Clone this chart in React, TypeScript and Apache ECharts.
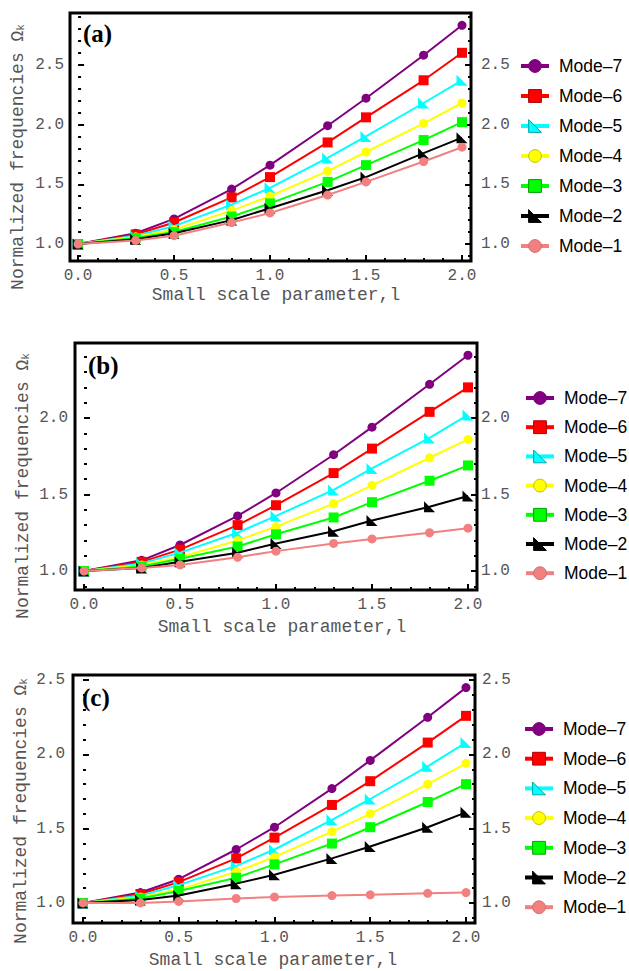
import React, { useEffect, useRef } from "react";
import * as echarts from "echarts";

const X_VALUES = [0, 0.3, 0.5, 0.8, 1.0, 1.3, 1.5, 1.8, 2.0];
const MODE_NAMES = ["Mode–7", "Mode–6", "Mode–5", "Mode–4", "Mode–3", "Mode–2", "Mode–1"];
const MODE_COLORS = ["#800080", "#ff0000", "#00ffff", "#ffff00", "#00ff00", "#000000", "#f28080"];
const MODE_BORDERS = ["#800080", "#b00000", "#00a8a8", "#c8c000", "#00a000", "#000000", "#d07070"];

// Panel (a)
const A_MODE7 = [1.0, 1.09, 1.21, 1.46, 1.66, 1.99, 2.22, 2.58, 2.83];
const A_MODE6 = [1.0, 1.08, 1.18, 1.39, 1.56, 1.85, 2.06, 2.37, 2.60];
const A_MODE5 = [1.0, 1.07, 1.15, 1.33, 1.47, 1.72, 1.90, 2.18, 2.37];
const A_MODE4 = [1.0, 1.06, 1.12, 1.28, 1.40, 1.61, 1.77, 2.01, 2.18];
const A_MODE3 = [1.0, 1.05, 1.10, 1.23, 1.34, 1.52, 1.66, 1.87, 2.02];
const A_MODE2 = [1.0, 1.04, 1.09, 1.20, 1.30, 1.45, 1.56, 1.76, 1.89];
const A_MODE1 = [1.0, 1.03, 1.07, 1.18, 1.26, 1.41, 1.52, 1.69, 1.81];

// Panel (b)
const B_MODE7 = [1.0, 1.07, 1.17, 1.36, 1.51, 1.76, 1.94, 2.22, 2.41];
const B_MODE6 = [1.0, 1.06, 1.14, 1.30, 1.43, 1.64, 1.80, 2.04, 2.20];
const B_MODE5 = [1.0, 1.05, 1.12, 1.25, 1.36, 1.53, 1.67, 1.87, 2.02];
const B_MODE4 = [1.0, 1.04, 1.09, 1.20, 1.29, 1.44, 1.56, 1.74, 1.86];
const B_MODE3 = [1.0, 1.03, 1.08, 1.16, 1.24, 1.35, 1.45, 1.59, 1.69];
const B_MODE2 = [1.0, 1.02, 1.06, 1.12, 1.18, 1.26, 1.33, 1.42, 1.49];
const B_MODE1 = [1.0, 1.02, 1.04, 1.09, 1.13, 1.18, 1.21, 1.25, 1.28];

// Panel (c)
const C_MODE7 = [1.0, 1.07, 1.16, 1.36, 1.51, 1.77, 1.96, 2.25, 2.45];
const C_MODE6 = [1.0, 1.06, 1.14, 1.30, 1.44, 1.66, 1.82, 2.08, 2.26];
const C_MODE5 = [1.0, 1.05, 1.12, 1.25, 1.36, 1.56, 1.70, 1.92, 2.08];
const C_MODE4 = [1.0, 1.04, 1.09, 1.21, 1.31, 1.48, 1.60, 1.80, 1.94];
const C_MODE3 = [1.0, 1.03, 1.08, 1.17, 1.26, 1.40, 1.51, 1.68, 1.80];
const C_MODE2 = [1.0, 1.02, 1.05, 1.13, 1.19, 1.30, 1.38, 1.51, 1.61];
const C_MODE1 = [1.0, 1.0, 1.01, 1.03, 1.04, 1.05, 1.055, 1.065, 1.07];

// Tick values
const X_MAJOR = [0, 0.5, 1.0, 1.5, 2.0];
const X_MINOR = [0.1, 0.2, 0.3, 0.4, 0.6, 0.7, 0.8, 0.9, 1.1, 1.2, 1.3, 1.4, 1.6, 1.7, 1.8, 1.9];
const Y_MAJOR_A = [1.0, 1.5, 2.0, 2.5];
const Y_MINOR_A = [0.9, 1.1, 1.2, 1.3, 1.4, 1.6, 1.7, 1.8, 1.9, 2.1, 2.2, 2.3, 2.4, 2.6, 2.7, 2.8, 2.9];
const Y_MAJOR_B = [1.0, 1.5, 2.0];
const Y_MINOR_B = [0.9, 1.1, 1.2, 1.3, 1.4, 1.6, 1.7, 1.8, 1.9, 2.1, 2.2, 2.3, 2.4];
const Y_MAJOR_C = [1.0, 1.5, 2.0, 2.5];
const Y_MINOR_C = [0.9, 1.1, 1.2, 1.3, 1.4, 1.6, 1.7, 1.8, 1.9, 2.1, 2.2, 2.3, 2.4];

const PANEL_LABELS = ["(a)", "(b)", "(c)"];
const X_TITLE = "Small scale parameter,l";
const Y_TITLE = "Normalized frequencies Ω{k|k}";

const SYMBOLS = [
  "circle",
  "rect",
  "path://M0,0L0,10L10,10Z",
  "circle",
  "rect",
  "path://M0,0L0,10L10,10Z",
  "circle",
];
const SYMBOL_SIZES = [9, 10, 11, 9, 10, 11, 9];

const PANELS = [
  {
    data: [A_MODE7, A_MODE6, A_MODE5, A_MODE4, A_MODE3, A_MODE2, A_MODE1],
    grid: { left: 70, top: 13, width: 401, height: 248 },
    x: [-0.042, 2.047],
    y: [0.858, 2.933],
    yMajor: Y_MAJOR_A,
    yMinor: Y_MINOR_A,
    leftMargin: 6,
    rightMargin: 10,
    legend: { left: 519, top: 57, gap: 12 },
    label: { x: 83, y: 33 },
    yTitle: { x: 18, y: 157 },
    xTitle: { x: 276, y: 295 },
  },
  {
    data: [B_MODE7, B_MODE6, B_MODE5, B_MODE4, B_MODE3, B_MODE2, B_MODE1],
    grid: { left: 75, top: 343, width: 402, height: 247 },
    x: [-0.047, 2.047],
    y: [0.876, 2.49],
    yMajor: Y_MAJOR_B,
    yMinor: Y_MINOR_B,
    leftMargin: 7,
    rightMargin: 4,
    legend: { left: 524, top: 389, gap: 11.2 },
    label: { x: 88, y: 365 },
    yTitle: { x: 23, y: 486 },
    xTitle: { x: 282, y: 627 },
  },
  {
    data: [C_MODE7, C_MODE6, C_MODE5, C_MODE4, C_MODE3, C_MODE2, C_MODE1],
    grid: { left: 73, top: 675, width: 402, height: 248 },
    x: [-0.052, 2.047],
    y: [0.865, 2.535],
    yMajor: Y_MAJOR_C,
    yMinor: Y_MINOR_C,
    leftMargin: 8,
    rightMargin: 7,
    legend: { left: 523, top: 720, gap: 11.7 },
    label: { x: 82, y: 697 },
    yTitle: { x: 21, y: 811 },
    xTitle: { x: 273, y: 960 },
  },
];

const MONO = "'Liberation Mono', 'DejaVu Sans Mono', monospace";
const TICK_COLOR = "#555";

export default function App() {
  const ref = useRef<HTMLDivElement>(null);

  useEffect(() => {
    if (!ref.current) return;
    const chart = echarts.init(ref.current, undefined, { renderer: "svg" });

    const grids: any[] = [];
    const xAxes: any[] = [];
    const yAxes: any[] = [];
    const series: any[] = [];
    const legends: any[] = [];
    const graphics: any[] = [];

    const tickStyle = { color: "#000", width: 2 };

    PANELS.forEach((p, i) => {
      grids.push({
        ...p.grid,
        show: true,
        borderColor: "#000",
        borderWidth: 3,
        backgroundColor: "transparent",
      });
      const xBase = {
        gridIndex: i,
        type: "value",
        position: "bottom",
        min: p.x[0],
        max: p.x[1],
        axisLine: { show: false },
        splitLine: { show: false },
      };
      xAxes.push({
        ...xBase,
        axisTick: { show: true, inside: true, length: 6, customValues: X_MAJOR, lineStyle: tickStyle },
        axisLabel: {
          show: true,
          customValues: X_MAJOR,
          formatter: (v: number) => v.toFixed(1),
          color: TICK_COLOR,
          fontFamily: MONO,
          fontSize: 16,
          margin: 7,
        },
      });
      xAxes.push({
        ...xBase,
        axisTick: { show: true, inside: true, length: 3, customValues: X_MINOR, lineStyle: tickStyle },
        axisLabel: { show: false },
      });
      const yBase = {
        gridIndex: i,
        type: "value",
        min: p.y[0],
        max: p.y[1],
        axisLine: { show: false },
        splitLine: { show: false },
      };
      const yLabel = (margin: number) => ({
        show: true,
        customValues: p.yMajor,
        formatter: (v: number) => v.toFixed(1),
        color: TICK_COLOR,
        fontFamily: MONO,
        fontSize: 16,
        margin,
      });
      yAxes.push({
        ...yBase,
        position: "left",
        axisTick: { show: true, inside: true, length: 6, customValues: p.yMajor, lineStyle: tickStyle },
        axisLabel: yLabel(p.leftMargin),
      });
      yAxes.push({
        ...yBase,
        position: "left",
        axisTick: { show: true, inside: true, length: 3, customValues: p.yMinor, lineStyle: tickStyle },
        axisLabel: { show: false },
      });
      yAxes.push({
        ...yBase,
        position: "right",
        axisTick: { show: true, inside: true, length: 6, customValues: p.yMajor, lineStyle: tickStyle },
        axisLabel: yLabel(p.rightMargin),
      });
      yAxes.push({
        ...yBase,
        position: "right",
        axisTick: { show: true, inside: true, length: 3, customValues: p.yMinor, lineStyle: tickStyle },
        axisLabel: { show: false },
      });

      p.data.forEach((vals, m) => {
        series.push({
          type: "line",
          name: MODE_NAMES[m],
          xAxisIndex: 2 * i,
          yAxisIndex: 4 * i,
          data: X_VALUES.map((x, j) => [x, vals[j]]),
          symbol: SYMBOLS[m],
          symbolSize: SYMBOL_SIZES[m],
          showSymbol: true,
          lineStyle: { color: MODE_COLORS[m], width: 2 },
          itemStyle: { color: MODE_COLORS[m] },
          z: 2 + m,
        });
      });

      legends.push({
        orient: "vertical",
        left: p.legend.left,
        top: p.legend.top,
        itemWidth: 28,
        itemHeight: 16,
        itemGap: p.legend.gap,
        selectedMode: false,
        padding: 0,
        lineStyle: { width: 4 },
        textStyle: {
          fontFamily: "'Liberation Sans', Arial, sans-serif",
          fontSize: 17.5,
          color: "#000",
          padding: [0, 0, 0, 5],
        },
        data: MODE_NAMES.map((n, m) => ({
          name: n,
          itemStyle: { color: MODE_COLORS[m], borderColor: MODE_BORDERS[m], borderWidth: 1 },
        })),
      });

      graphics.push({
        type: "text",
        x: p.label.x,
        y: p.label.y,
        style: {
          text: PANEL_LABELS[i],
          fontFamily: "'Liberation Serif', 'Times New Roman', serif",
          fontWeight: "bold",
          fontSize: 25,
          fill: "#000",
          textAlign: "left",
          textVerticalAlign: "middle",
        },
        z: 100,
      });
      graphics.push({
        type: "text",
        x: p.xTitle.x,
        y: p.xTitle.y,
        style: {
          text: X_TITLE,
          fontFamily: MONO,
          fontSize: 18,
          fill: TICK_COLOR,
          textAlign: "center",
          textVerticalAlign: "middle",
        },
      });
      graphics.push({
        type: "text",
        x: p.yTitle.x,
        y: p.yTitle.y,
        rotation: Math.PI / 2,
        style: {
          text: Y_TITLE,
          fontFamily: MONO,
          fontSize: 18,
          fill: TICK_COLOR,
          textAlign: "center",
          textVerticalAlign: "middle",
          rich: {
            k: { fontFamily: MONO, fontSize: 11, fill: TICK_COLOR, padding: [6, 0, 0, 0] },
          },
        },
      });
    });

    chart.setOption({
      animation: false,
      backgroundColor: "#fff",
      grid: grids,
      xAxis: xAxes,
      yAxis: yAxes,
      series,
      legend: legends,
      graphic: graphics,
    });

    return () => chart.dispose();
  }, []);

  return (
    <div
      ref={ref}
      style={{ position: "absolute", left: 0, top: 0, width: 629, height: 971, background: "#fff" }}
    />
  );
}
